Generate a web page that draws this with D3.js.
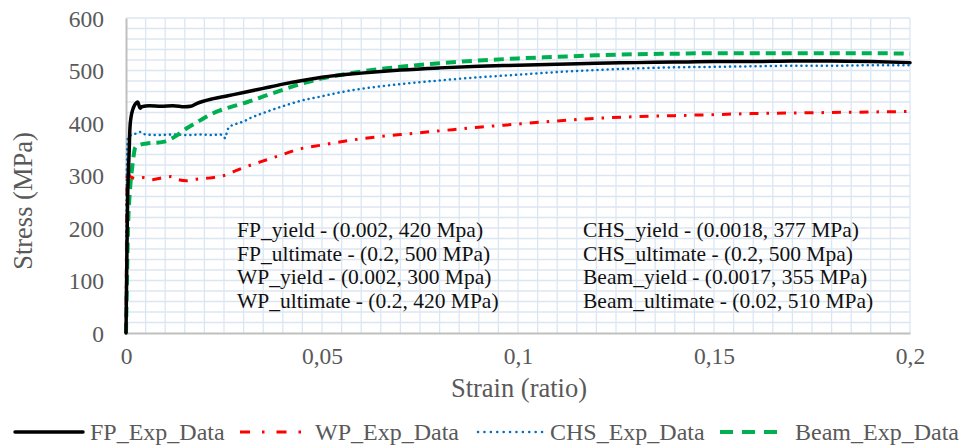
<!DOCTYPE html>
<html>
<head>
<meta charset="utf-8">
<script src="https://cdn.jsdelivr.net/npm/d3@7"></script>
<style>
  html, body { margin: 0; padding: 0; background: #fff; }
  svg { display: block; }
</style>
</head>
<body>
<svg id="chart" width="964" height="447"></svg>
<script>
// Stress–strain test curves
const fpStrain = [0, 0.0002, 0.0004, 0.0006, 0.0008, 0.001, 0.0013, 0.0017, 0.0022, 0.0027, 0.003, 0.0033, 0.0036, 0.004, 0.006, 0.009, 0.012, 0.015, 0.0165, 0.018, 0.0195, 0.022, 0.026, 0.03, 0.035, 0.04, 0.045, 0.05, 0.06, 0.07, 0.08, 0.09, 0.1, 0.11, 0.12, 0.13, 0.14, 0.15, 0.16, 0.17, 0.18, 0.19, 0.2];
const fpStress = [0, 130, 250, 305, 345, 390, 412, 425, 434, 439, 440, 434, 428, 431, 433, 432, 433, 431, 432, 437, 441, 446, 452, 458, 466, 474, 481, 487, 495, 501, 505, 508, 510, 512, 514, 515, 516, 517, 517, 518, 518, 517, 515];

const wpStrain = [0, 0.0001, 0.0002, 0.0003, 0.0005, 0.0008, 0.0012, 0.002, 0.003, 0.0045, 0.0066, 0.0095, 0.0115, 0.013, 0.0155, 0.018, 0.021, 0.023, 0.025, 0.0273, 0.03, 0.0359, 0.04, 0.0435, 0.05, 0.06, 0.07, 0.08, 0.09, 0.1, 0.11, 0.12, 0.13, 0.14, 0.15, 0.16, 0.17, 0.18, 0.19, 0.2];
const wpStress = [0, 150, 260, 305, 310, 302, 297, 295, 294, 296, 292, 296, 298, 293, 290, 293, 295, 297, 300, 307, 315, 330, 340, 349, 358, 370, 378, 385, 392, 398, 404, 409, 412, 414, 416, 418, 419, 420, 421, 422];

const chsStrain = [0, 0.00005, 0.0001, 0.0002, 0.0003, 0.0005, 0.001, 0.002, 0.003, 0.0038, 0.005, 0.008, 0.012, 0.016, 0.019, 0.022, 0.024, 0.025, 0.0253, 0.0258, 0.0265, 0.028, 0.03, 0.0316, 0.035, 0.04, 0.0444, 0.05, 0.055, 0.06, 0.07, 0.08, 0.09, 0.1, 0.11, 0.12, 0.13, 0.14, 0.15, 0.16, 0.17, 0.18, 0.19, 0.2];
const chsStress = [0, 100, 200, 300, 350, 372, 376, 378, 382, 383, 378, 377, 378, 377, 378, 377, 378, 374, 371, 385, 393, 398, 403, 409, 419, 432, 442, 451, 459, 465, 474, 481, 487, 492, 497, 501, 504, 506, 507, 508, 509, 509, 510, 510];

const beamStrain = [0, 0.0002, 0.0004, 0.0006, 0.0009, 0.0012, 0.0015, 0.0019, 0.0023, 0.003, 0.0053, 0.0095, 0.0129, 0.0155, 0.0189, 0.0215, 0.024, 0.0274, 0.031, 0.036, 0.0436, 0.05, 0.055, 0.06, 0.07, 0.08, 0.09, 0.1, 0.11, 0.12, 0.13, 0.14, 0.15, 0.16, 0.17, 0.18, 0.19, 0.2];
const beamStress = [0, 80, 160, 220, 260, 290, 310, 335, 352, 357, 361, 364, 376, 390, 405, 416, 424, 432, 440, 453, 472, 485, 492, 498, 507, 514, 519, 523, 526, 529, 531, 532, 533, 533, 533, 533, 533, 532];

const seriesNames = ["FP_Exp_Data", "WP_Exp_Data", "CHS_Exp_Data", "Beam_Exp_Data"];
const xTicks = [0, 0.05, 0.1, 0.15, 0.2];
const xTickLabels = ["0", "0,05", "0,1", "0,15", "0,2"];
const yTicks = [0, 100, 200, 300, 400, 500, 600];

const notesLeft = [
  "FP_yield - (0.002, 420 Mpa)",
  "FP_ultimate - (0.2, 500 MPa)",
  "WP_yield - (0.002, 300 Mpa)",
  "WP_ultimate - (0.2, 420 MPa)"
];
const notesRight = [
  "CHS_yield - (0.0018, 377 MPa)",
  "CHS_ultimate - (0.2, 500 Mpa)",
  "Beam_yield - (0.0017, 355 MPa)",
  "Beam_ultimate - (0.02, 510 MPa)"
];

const svg = d3.select("#chart");
const plot = { left: 126, right: 910, top: 18, bottom: 333 };

const x = d3.scaleLinear().domain([0, 0.2]).range([plot.left, plot.right]);
const y = d3.scaleLinear().domain([0, 600]).range([plot.bottom, plot.top]);

const serif = "'Liberation Serif', 'Times New Roman', serif";
const textGray = "#595959";

// minor grid
const grid = svg.append("g");
grid.selectAll("line.v")
  .data(d3.range(1, 41).map(i => i * 0.005))
  .join("line")
  .attr("x1", d => x(d)).attr("x2", d => x(d))
  .attr("y1", plot.top).attr("y2", plot.bottom)
  .attr("stroke", "#dce6f2").attr("stroke-width", 1.3);
grid.selectAll("line.h")
  .data(d3.range(1, 31).map(i => i * 20))
  .join("line")
  .attr("x1", plot.left).attr("x2", plot.right)
  .attr("y1", d => y(d)).attr("y2", d => y(d))
  .attr("stroke", "#dce6f2").attr("stroke-width", 1.3);

// annotation text
function notes(lines, x0) {
  svg.append("g").selectAll("text")
    .data(lines)
    .join("text")
    .attr("x", x0)
    .attr("y", (d, i) => 237 + i * 23.5)
    .attr("font-family", serif)
    .attr("font-size", 21.5)
    .attr("fill", "#111")
    .text(d => d);
}
notes(notesLeft, 237);
notes(notesRight, 583);

// axes
const xAxis = d3.axisBottom(x).tickValues(xTicks).tickFormat((d, i) => xTickLabels[i]).tickSize(0).tickPadding(14);
const yAxis = d3.axisLeft(y).tickValues(yTicks).tickSize(0).tickPadding(22);

const gx = svg.append("g").attr("transform", `translate(0,${plot.bottom})`).call(xAxis);
const gy = svg.append("g").attr("transform", `translate(${plot.left},0)`).call(yAxis);
[gx, gy].forEach(g => {
  g.select(".domain").attr("stroke", "#bfbfbf").attr("stroke-width", 2);
  g.selectAll("text").attr("font-family", serif).attr("font-size", 23.5).attr("fill", textGray);
});
gy.selectAll("text").attr("dy", "0.35em");

// axis titles
svg.append("text")
  .attr("x", 519).attr("y", 397)
  .attr("text-anchor", "middle")
  .attr("font-family", serif).attr("font-size", 26.5).attr("fill", textGray)
  .text("Strain (ratio)");
svg.append("text")
  .attr("transform", "translate(32,201) rotate(-90)")
  .attr("text-anchor", "middle")
  .attr("font-family", serif).attr("font-size", 26.5).attr("fill", textGray)
  .text("Stress (MPa)");

// series styles
const styles = [
  { color: "#000000", width: 3.5, dash: null, cap: "round", legendDash: null },
  { color: "#ff0000", width: 3, dash: "9,8,2.5,8", cap: "butt", legendDash: "10,12,2.5,12" },
  { color: "#0070c0", width: 2.5, dash: "0.1,5", cap: "round", legendDash: "0.1,6.3" },
  { color: "#00b050", width: 4, dash: "10,6", cap: "butt", legendDash: "13,9" }
];
const seriesData = [
  fpStrain.map((s, i) => [s, fpStress[i]]),
  wpStrain.map((s, i) => [s, wpStress[i]]),
  chsStrain.map((s, i) => [s, chsStress[i]]),
  beamStrain.map((s, i) => [s, beamStress[i]])
];

const line = d3.line().x(d => x(d[0])).y(d => y(d[1])).curve(d3.curveMonotoneX);
const drawOrder = [1, 2, 3, 0];
drawOrder.forEach(k => {
  const st = styles[k];
  svg.append("path")
    .datum(seriesData[k])
    .attr("d", line)
    .attr("fill", "none")
    .attr("stroke", st.color)
    .attr("stroke-width", st.width)
    .attr("stroke-linejoin", "round")
    .attr("stroke-linecap", st.cap)
    .attr("stroke-dasharray", st.dash);
});

// legend
const legendItems = [
  { x0: 15, x1: 83, tx: 90 },
  { x0: 240, x1: 302, tx: 315 },
  { x0: 478, x1: 543, tx: 550 },
  { x0: 720, x1: 778, tx: 795 }
];
const legendY = 432;
legendItems.forEach((it, k) => {
  const st = styles[k];
  svg.append("line")
    .attr("x1", it.x0).attr("x2", it.x1)
    .attr("y1", legendY).attr("y2", legendY)
    .attr("stroke", st.color)
    .attr("stroke-width", st.width)
    .attr("stroke-linecap", st.cap)
    .attr("stroke-dasharray", st.legendDash);
  svg.append("text")
    .attr("x", it.tx).attr("y", legendY)
    .attr("dy", "0.35em")
    .attr("font-family", serif).attr("font-size", 24).attr("fill", textGray)
    .text(seriesNames[k]);
});
</script>
</body>
</html>
